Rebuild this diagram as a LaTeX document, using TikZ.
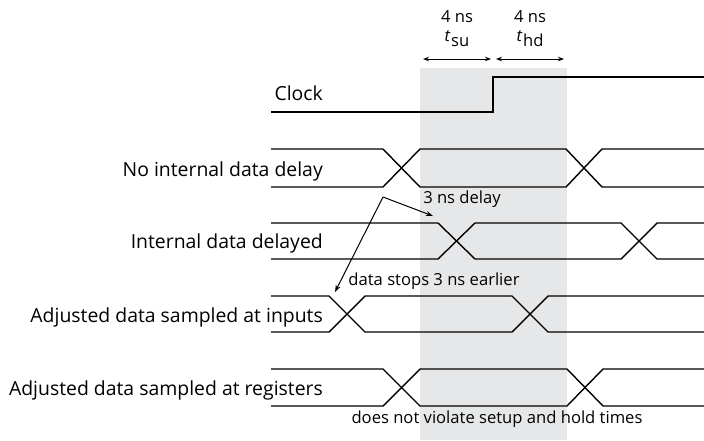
\documentclass[tikz,border=0pt]{standalone}
\usepackage{fontspec}
\setmainfont{Open Sans}
\usetikzlibrary{arrows.meta}
\definecolor{bandgray}{HTML}{E6E7E8}
% two-line data bus with two crossovers: top, bottom, start/end of each crossover
\newcommand\drawbus[6]{%
  \draw[sig] (271,#1) -- (#3,#1) -- (#4,#2) -- (#5,#2) -- (#6,#1) -- (704,#1);
  \draw[sig] (271,#2) -- (#3,#2) -- (#4,#1) -- (#5,#1) -- (#6,#2) -- (704,#2);
}
\begin{document}
\begin{tikzpicture}[x=1pt,y=-1pt,
  sig/.style={line width=1.4pt,line join=miter},
  lbl/.style={anchor=east,inner sep=0pt,font=\fontsize{19.4}{21}\selectfont},
  note/.style={inner sep=0pt,font=\fontsize{16.6}{18}\selectfont},
  dim/.style={line width=1pt,{Stealth[length=6pt,width=4.5pt]}-{Stealth[length=6pt,width=4.5pt]}},
  pointer/.style={line width=1pt,-{Stealth[length=7pt,width=5pt]}}]
\useasboundingbox (0,0) rectangle (704,440);

% setup/hold window
\fill[bandgray] (420,68) rectangle (567,440);

% clock
\draw[sig] (271,112) -- (493,112) -- (493,77) -- (704,77);
\node[lbl] (clk) at (323,93) {Clock};

% setup and hold dimensions
\coordinate (su1) at (423,59);
\coordinate (su2) at (491,59);
\coordinate (hd1) at (496,59);
\coordinate (hd2) at (564,59);
\draw[dim] (su1) -- (su2);
\draw[dim] (hd1) -- (hd2);
\node[note] (suns) at (457,17) {4 ns};
\node[note] (hdns) at (530,17) {4 ns};
\node[note] (tsu) at (457,39) {\textit{t}\kern0.5pt\raisebox{-0.55ex}{su}};
\node[note] (thd) at (530,39) {\textit{t}\kern0.5pt\raisebox{-0.55ex}{hd}};

% data buses
\drawbus{149}{187}{383}{420}{566}{602}
\node[lbl] (r1) at (323,171) {No internal data delay};
\drawbus{223}{259}{438}{475}{621}{657}
\node[lbl] (r2) at (323,243) {Internal data delayed};
\drawbus{296}{332}{329}{365}{512}{548}
\node[lbl] (r3) at (323,317) {Adjusted data sampled at inputs};
\drawbus{369}{406}{383}{420}{567}{603}
\node[lbl] (r4) at (323,390) {Adjusted data sampled at registers};

% annotations
\node[note] (delay) at (462,199) {3 ns delay};
\node[note] (early) at (434,281) {data stops 3 ns earlier};
\node[note] (ok) at (497,419) {does not violate setup and hold times};
\coordinate (bend) at (383,197);
\coordinate (tipA) at (433,216);
\coordinate (tipB) at (335,292);
\draw[pointer] (bend) -- (tipA);
\draw[pointer] (bend) -- (tipB);
\end{tikzpicture}
\end{document}
